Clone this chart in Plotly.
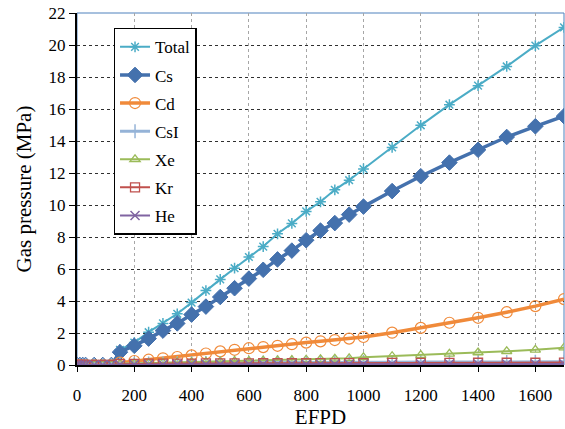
import plotly.graph_objects as go

efpd = [0, 10, 20, 30, 60, 90, 120, 150, 200, 250, 300, 350, 400, 450, 500, 550, 600, 650,
        700, 750, 800, 850, 900, 950, 1000, 1100, 1200, 1300, 1400, 1500, 1600, 1700]

total = [0, 0, 0, 0, 0, 0, 0, 0.95, 1.4, 2.05, 2.6, 3.2, 3.9, 4.65, 5.35, 6.05, 6.75, 7.4,
         8.2, 8.85, 9.6, 10.2, 10.95, 11.55, 12.25, 13.6, 14.98, 16.27, 17.46, 18.66, 19.96, 21.1]
cs = [0, 0, 0, 0, 0, 0, 0, 0.8, 1.2, 1.65, 2.15, 2.6, 3.15, 3.65, 4.25, 4.8, 5.4, 5.95,
      6.6, 7.15, 7.8, 8.4, 8.87, 9.4, 9.9, 10.87, 11.8, 12.65, 13.45, 14.25, 14.92, 15.55]
cd = [0, 0, 0, 0, 0, 0, 0, 0.15, 0.25, 0.33, 0.42, 0.5, 0.6, 0.72, 0.85, 0.95, 1.05, 1.12,
      1.2, 1.3, 1.4, 1.48, 1.56, 1.65, 1.75, 2.02, 2.32, 2.64, 2.95, 3.3, 3.68, 4.12]
csi = [0, 0, 0, 0, 0, 0, 0, 0.05, 0.08, 0.09, 0.1, 0.11, 0.12, 0.12, 0.13, 0.13, 0.14, 0.14,
       0.15, 0.15, 0.15, 0.16, 0.16, 0.16, 0.17, 0.17, 0.18, 0.18, 0.19, 0.19, 0.2, 0.2]
xe = [0, 0, 0, 0, 0, 0, 0, 0.08, 0.1, 0.12, 0.14, 0.16, 0.18, 0.2, 0.22, 0.24, 0.25, 0.27,
      0.29, 0.31, 0.33, 0.36, 0.39, 0.42, 0.48, 0.55, 0.62, 0.7, 0.78, 0.86, 0.95, 1.08]
kr = [0, 0, 0, 0, 0, 0, 0, 0.05, 0.07, 0.08, 0.08, 0.09, 0.09, 0.1, 0.1, 0.1, 0.1, 0.11,
      0.11, 0.11, 0.11, 0.12, 0.12, 0.12, 0.12, 0.13, 0.13, 0.13, 0.14, 0.14, 0.14, 0.15]
he = [0, 0, 0, 0, 0, 0, 0, 0.02, 0.03, 0.03, 0.03, 0.04, 0.04, 0.04, 0.04, 0.04, 0.05, 0.05,
      0.05, 0.05, 0.05, 0.05, 0.05, 0.05, 0.05, 0.06, 0.06, 0.06, 0.06, 0.06, 0.06, 0.06]

x_ticks = [0, 200, 400, 600, 800, 1000, 1200, 1400, 1600]
y_ticks = list(range(0, 23, 2))

FONT = "Liberation Serif"

series = [
    ("Total", total, "#4BACC6", 2, "asterisk-open", 9, 1.5),
    ("Cs", cs, "#4471AD", 3.5, "diamond", 12, 1),
    ("Cd", cd, "#F08A3A", 3.5, "circle-open", 11, 1.2),
    ("CsI", csi, "#95B3D7", 3, "cross-thin-open", 10, 1.5),
    ("Xe", xe, "#9BBB59", 2, "triangle-up-open", 9, 1.3),
    ("Kr", kr, "#C0504D", 2, "square-open", 9, 1.3),
    ("He", he, "#8064A2", 2, "x-thin-open", 9, 1.5),
]

fig = go.Figure()
for name, vals, color, lw, sym, ms, mlw in series:
    fig.add_trace(go.Scatter(
        x=efpd, y=vals, name=name, mode="lines+markers",
        line=dict(color=color, width=lw),
        marker=dict(symbol=sym, size=ms, color=color, line=dict(color=color, width=mlw)),
        legendgroup=name,
    ))

fig.update_layout(
    width=565, height=429,
    margin=dict(l=77, r=1, t=13, b=64),
    paper_bgcolor="white", plot_bgcolor="white",
    font=dict(family=FONT, size=17, color="black"),
    showlegend=True,
    legend=dict(
        x=0.075, y=0.958, xanchor="left", yanchor="top",
        bgcolor="white", bordercolor="black", borderwidth=1.5,
        font=dict(family=FONT, size=17, color="black"),
        tracegroupgap=3, traceorder="grouped",
    ),
    xaxis=dict(
        range=[0, 1700], tickvals=x_ticks,
        tickfont=dict(family=FONT, size=17, color="black"),
        showgrid=True, gridcolor="#A6A6A6", griddash="dot", gridwidth=1,
        showline=True, linecolor="black", linewidth=2,
        ticks="outside", ticklen=5, tickcolor="black",
        ticklabelstandoff=9,
        title=dict(text="EFPD", font=dict(family=FONT, size=21), standoff=3),
        zeroline=False,
    ),
    yaxis=dict(
        range=[0, 22], tickvals=y_ticks,
        tickfont=dict(family=FONT, size=17, color="black"),
        showgrid=True, gridcolor="#303030", griddash="dot", gridwidth=1,
        showline=True, linecolor="black", linewidth=2,
        ticks="outside", ticklen=6, tickcolor="black",
        title=dict(text="Gas pressure (MPa)", font=dict(family=FONT, size=21), standoff=11),
        zeroline=False,
    ),
)

fig.add_shape(type="rect", xref="paper", yref="paper", x0=0, x1=1, y0=0, y1=1,
              line=dict(color="#4F81BD", width=1), layer="below")

fig.write_html("out.html", config={"displayModeBar": False},
               post_script="document.body.style.margin='0';document.body.style.padding='0';")
